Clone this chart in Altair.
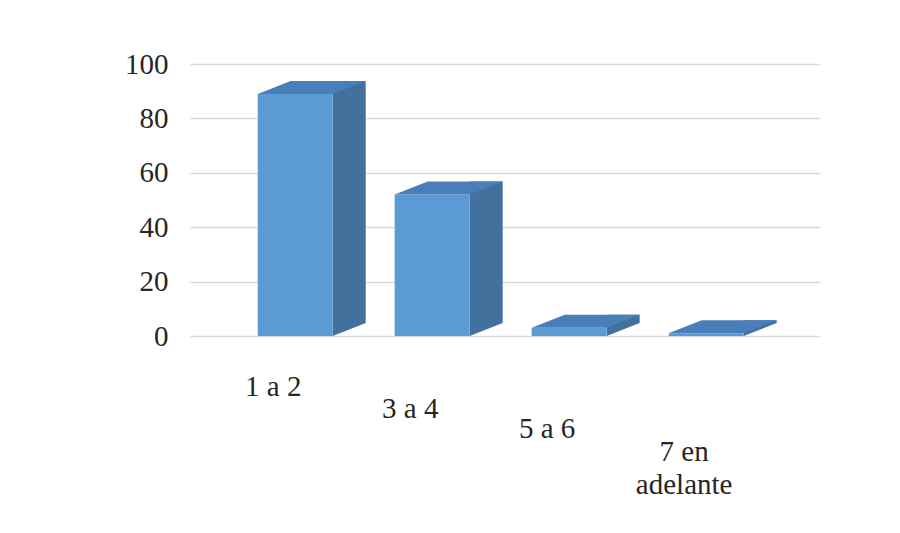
import json
import altair as alt
import pandas as pd

# ---- data ----
categories = ["1 a 2", "3 a 4", "5 a 6", "7 en adelante"]
values = [89, 52, 3, 1]
y_ticks = [0, 20, 40, 60, 80, 100]
label_lines = [["1 a 2"], ["3 a 4"], ["5 a 6"], ["7 en", "adelante"]]

# ---- style ----
FRONT = "#5B9BD5"
SIDE = "#41719C"
TOP = "#4A7EBB"
FONT = "Liberation Serif"
TEXT = "#262626"
W = 75    # bar front width (px)
DX = 33   # depth offset x (px)
DY = 13   # depth offset y (px)
BASE_PAD = 36
label_drop = [0, 22, 42, 65]   # perspective-like staggering of category labels (px)

df = pd.DataFrame({"cat": categories, "val": values})

expr = "datum.value"
for cat, lines in reversed(list(zip(categories, label_lines))):
    expr = f"datum.value == {json.dumps(cat)} ? {json.dumps(lines)} : ({expr})"

pad_cond = {
    "condition": [
        {"test": f"datum.value == {json.dumps(cat)}", "value": BASE_PAD + d}
        for cat, d in zip(categories, label_drop) if d
    ],
    "value": BASE_PAD,
}

# custom symbol paths (unit box -1..1, scaled by sqrt(size)/2)
u_top = (W + DX) / 2
h = (DY / 2) / u_top
r = (W - DX) / (W + DX)
top_path = f"M -1 {h:.4f} L {r:.4f} {h:.4f} L 1 {-h:.4f} L {-r:.4f} {-h:.4f} Z"
k = DY / DX
tri_path = f"M -1 {-k:.4f} L -1 {k:.4f} L 1 {-k:.4f} Z"

x = alt.X(
    "cat:N",
    sort=categories,
    title=None,
    scale=alt.Scale(paddingInner=0.45, paddingOuter=0.5245, align=0.47),
    axis=alt.Axis(
        labelAngle=0,
        labelExpr=expr,
        labelFont=FONT,
        labelFontSize=29,
        labelLineHeight=33,
        labelPadding=pad_cond,
        labelOffset=-22,
        labelColor=TEXT,
        domain=False,
        ticks=False,
        grid=False,
    ),
)
y = alt.Y(
    "val:Q",
    title=None,
    scale=alt.Scale(domain=[0, 100]),
    axis=alt.Axis(
        values=y_ticks,
        labelFont=FONT,
        labelFontSize=29,
        labelPadding=22,
        labelColor=TEXT,
        domain=False,
        ticks=False,
        gridColor="#D9D9D9",
        gridWidth=1.5,
    ),
)

base = alt.Chart(df).encode(x=x, y=y)

side = base.mark_bar(width=DX, xOffset=W / 2 + DX / 2, yOffset=-DY, y2Offset=-DY, color=SIDE)
tri = base.mark_point(
    shape=tri_path, size=DX ** 2, filled=True, color=SIDE, opacity=1,
    xOffset=W / 2 + DX / 2, yOffset=-DY / 2,
).encode(y=alt.datum(0))
front = base.mark_bar(width=W, color=FRONT)
top = base.mark_point(
    shape=top_path, size=(W + DX) ** 2, filled=True, color=TOP, opacity=1,
    xOffset=DX / 2, yOffset=-DY / 2,
)

chart = (
    alt.layer(side, tri, front, top)
    .properties(
        width=630,
        height=272,
        padding={"left": 182, "top": 56, "right": 64, "bottom": 180},
        autosize=alt.AutoSizeParams(type="none"),
        background="white",
    )
    .configure_view(stroke=None)
)

chart.save("out.html", embed_options={"renderer": "svg", "actions": False})
